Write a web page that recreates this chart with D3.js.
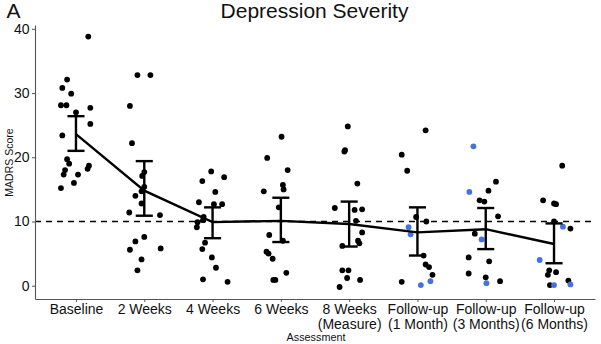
<!DOCTYPE html>
<html>
<head>
<meta charset="utf-8">
<script src="https://cdn.jsdelivr.net/npm/d3@7"></script>
<style>
  html, body { margin: 0; padding: 0; background: #fff; }
  text { font-family: "Liberation Sans", Arial, sans-serif; }
</style>
</head>
<body>
<svg id="chart" width="601" height="344"></svg>
<script>
// ---- data ----
const categories = ["Baseline", "2 Weeks", "4 Weeks", "6 Weeks", "8 Weeks\n(Measure)",
  "Follow-up\n(1 Month)", "Follow-up\n(3 Months)", "Follow-up\n(6 Months)"];

// black participants: scores per assessment
const blackScores = [
  [38.8, 32.1, 30.8, 29.9, 28.1, 28.1, 27.0, 27.7, 25.2, 23.4, 19.7, 19.0, 18.0, 17.3, 17.3, 18.7, 18.2, 16.0, 15.2],
  [32.8, 32.8, 28.0, 22.2, 17.7, 17.1, 15.4, 14.7, 14.0, 12.8, 11.4, 11.0, 7.6, 6.9, 5.6, 5.8, 4.1, 2.4],
  [17.8, 16.3, 16.9, 14.6, 13.0, 12.7, 12.7, 10.7, 10.2, 9.9, 9.1, 6.7, 5.7, 4.4, 2.8, 1.0, 0.6],
  [23.2, 19.9, 18.0, 15.7, 15.0, 14.7, 12.2, 7.0, 7.9, 5.3, 5.0, 4.2, 2.0, 0.9, 0.9],
  [24.8, 21.1, 20.9, 15.9, 12.1, 11.8, 11.9, 10.1, 8.3, 7.0, 6.6, 6.2, 2.4, 2.4, 1.2, 0.9, -0.2],
  [24.2, 20.4, 17.9, 10.7, 10.0, 4.7, 3.3, 2.9, 1.7, 0.6],
  [16.2, 14.8, 13.3, 13.1, 10.8, 8.1, 4.4, 3.8, 1.9, 1.3, 0.7],
  [18.7, 13.3, 12.8, 12.7, 10.0, 8.9, 2.4, 1.7, 2.1, 0.8, 0.1]
];
// horizontal jitter of each black point (fraction of category step)
const blackJitter = [
  [0.18, -0.13, -0.20, -0.07, -0.22, -0.14, 0.00, 0.21, 0.21, -0.20, -0.13, -0.10, -0.16, -0.18, 0.03, 0.19, 0.17, -0.03, -0.22],
  [-0.10, 0.09, -0.21, -0.18, 0.00, -0.03, 0.00, -0.04, -0.13, -0.04, -0.22, 0.23, 0.00, -0.13, -0.21, 0.24, -0.04, -0.10],
  [-0.02, -0.15, 0.17, 0.04, -0.20, 0.02, 0.14, -0.13, -0.14, -0.22, -0.23, -0.11, -0.15, -0.01, 0.05, -0.14, 0.22],
  [0.01, -0.20, 0.10, 0.03, 0.04, -0.25, -0.03, 0.03, -0.17, -0.21, -0.18, -0.12, 0.08, -0.11, -0.08],
  [-0.02, -0.06, -0.07, 0.12, -0.21, 0.08, 0.19, 0.10, 0.19, 0.13, 0.15, -0.10, -0.10, -0.01, -0.03, 0.16, -0.14],
  [0.12, -0.23, -0.15, -0.02, 0.13, 0.09, 0.12, 0.17, 0.22, -0.23],
  [0.15, 0.04, -0.09, -0.02, 0.18, -0.16, -0.25, 0.05, -0.25, 0.00, 0.21],
  [0.12, -0.16, 0.00, 0.03, 0.00, 0.24, -0.07, -0.09, 0.03, 0.21, -0.06]
];
// blue participants (follow-up only)
const blueScores = [
  [], [], [], [], [],
  [9.1, 8.0, 0.1, 0.7],
  [21.7, 14.6, 7.2, 0.4],
  [9.2, 4.0, 0.1, 0.2]
];
const blueJitter = [
  [], [], [], [], [],
  [-0.13, -0.10, 0.05, 0.19],
  [-0.18, -0.24, -0.06, 0.01],
  [0.13, -0.21, 0.00, 0.24]
];
const means  = [23.6, 14.8, 9.9, 10.1, 9.6, 8.3, 8.8, 6.5];
const ciLow  = [21.0, 10.9, 7.4, 6.8, 6.1, 4.7, 5.7, 3.5];
const ciHigh = [26.4, 19.4, 12.2, 13.7, 13.1, 12.2, 12.1, 9.7];
const yTicks = [0, 10, 20, 30, 40];
const cutoff = 10;

// ---- drawing ----
const svg = d3.select("#chart");
const panel = { left: 35, right: 595, top: 25, bottom: 299 };

const x = d3.scalePoint().domain(categories).range([panel.left, panel.right]).padding(0.6);
const y = d3.scaleLinear().domain([-2.07, 40.6]).range([panel.bottom, panel.top]);
const step = x.step();

// points
const pts = [];
categories.forEach((c, i) => {
  blackScores[i].forEach((v, j) => pts.push({ c, v, j: blackJitter[i][j], col: "#000000" }));
  blueScores[i].forEach((v, j) => pts.push({ c, v, j: blueJitter[i][j], col: "#4472E4" }));
});

// cutoff dashed line
svg.append("line")
  .attr("x1", panel.left).attr("x2", panel.right)
  .attr("y1", y(cutoff)).attr("y2", y(cutoff))
  .attr("stroke", "#000").attr("stroke-width", 1.6)
  .attr("stroke-dasharray", "6,5");

svg.append("g").selectAll("circle").data(pts).join("circle")
  .attr("cx", d => x(d.c) + d.j * step)
  .attr("cy", d => y(d.v))
  .attr("r", 2.9)
  .attr("fill", d => d.col);

// mean line
svg.append("path")
  .datum(categories.map((c, i) => [x(c), y(means[i])]))
  .attr("d", d3.line())
  .attr("fill", "none").attr("stroke", "#000").attr("stroke-width", 2.4);

// error bars
const eb = svg.append("g").attr("stroke", "#000").attr("stroke-width", 2.4);
const capW = step * 0.125;
categories.forEach((c, i) => {
  eb.append("line").attr("x1", x(c)).attr("x2", x(c)).attr("y1", y(ciLow[i])).attr("y2", y(ciHigh[i]));
  eb.append("line").attr("x1", x(c) - capW).attr("x2", x(c) + capW).attr("y1", y(ciLow[i])).attr("y2", y(ciLow[i]));
  eb.append("line").attr("x1", x(c) - capW).attr("x2", x(c) + capW).attr("y1", y(ciHigh[i])).attr("y2", y(ciHigh[i]));
});

// axes
const yAxis = svg.append("g").attr("transform", `translate(${panel.left},0)`)
  .call(d3.axisLeft(y).tickValues(yTicks).tickSize(3).tickSizeOuter(0).tickPadding(2.5));
yAxis.select(".domain").attr("stroke", "#555").attr("stroke-width", 1.1);
yAxis.selectAll(".tick line").attr("stroke", "#555");
yAxis.selectAll(".tick text").attr("font-size", 14).attr("fill", "#111")
  .style("font-family", '"Liberation Sans", Arial, sans-serif');

const xAxis = svg.append("g").attr("transform", `translate(0,${panel.bottom})`)
  .call(d3.axisBottom(x).tickSize(3).tickSizeOuter(0));
xAxis.select(".domain").attr("stroke", "#555").attr("stroke-width", 1.1);
xAxis.selectAll(".tick line").attr("stroke", "#555");
xAxis.selectAll(".tick text").each(function(d) {
  const t = d3.select(this);
  t.text(null).attr("y", 0).attr("dy", null)
    .attr("font-size", 14).attr("fill", "#111")
    .style("font-family", '"Liberation Sans", Arial, sans-serif');
  d.split("\n").forEach((line, k) => {
    t.append("tspan").attr("x", 0).attr("y", 15 + k * 14.5).text(line);
  });
});

// titles
svg.append("text").attr("x", 314.5).attr("y", 17.5).attr("text-anchor", "middle")
  .attr("font-size", 21).attr("fill", "#111").text("Depression Severity");
svg.append("text").attr("x", 6.5).attr("y", 17.5)
  .attr("font-size", 21).attr("fill", "#111").text("A");
svg.append("text").attr("x", 316).attr("y", 341).attr("text-anchor", "middle")
  .attr("font-size", 10.8).attr("fill", "#111").text("Assessment");
svg.append("text").attr("transform", "translate(12.5,162.5) rotate(-90)")
  .attr("text-anchor", "middle").attr("font-size", 10.5).attr("fill", "#111").text("MADRS Score");
</script>
</body>
</html>
